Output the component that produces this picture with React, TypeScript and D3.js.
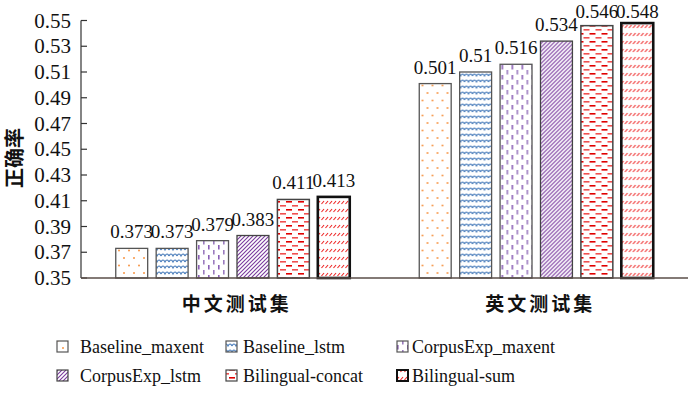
import React from "react";
import * as d3 from "d3";

// data
const groups = ["中文测试集", "英文测试集"];
const series = [
  "Baseline_maxent",
  "Baseline_lstm",
  "CorpusExp_maxent",
  "CorpusExp_lstm",
  "Bilingual-concat",
  "Bilingual-sum",
];
const zhValues = [0.373, 0.373, 0.379, 0.383, 0.411, 0.413];
const enValues = [0.501, 0.51, 0.516, 0.534, 0.546, 0.548];
const valueLabels = [
  ["0.373", "0.373", "0.379", "0.383", "0.411", "0.413"],
  ["0.501", "0.51", "0.516", "0.534", "0.546", "0.548"],
];
const yTicks = [0.35, 0.37, 0.39, 0.41, 0.43, 0.45, 0.47, 0.49, 0.51, 0.53, 0.55];

const W = 700;
const H = 396;
const serif = "Liberation Serif";
const cjk = "Noto Sans CJK SC";

const fills = ["url(#p0)", "url(#p1)", "url(#p2)", "url(#p3)", "url(#p4)", "url(#p5)"];
const strokes = ["#555", "#555", "#555", "#444", "#444", "#111"];
const strokeW = [1.3, 1.3, 1.3, 1.3, 1.5, 2.6];

function Patterns() {
  return (
    <defs>
      <pattern id="p0" patternUnits="userSpaceOnUse" width={10} height={15}>
        <rect width={10} height={15} fill="#fff" />
        <circle cx={3} cy={3} r={1} fill="#f79646" />
        <circle cx={8} cy={10.5} r={1} fill="#f79646" />
      </pattern>
      <pattern id="p1" patternUnits="userSpaceOnUse" width={8} height={6}>
        <rect width={8} height={6} fill="#fff" />
        <path d="M0,4 Q2,0 4,4 Q6,0 8,4" fill="none" stroke="#4f81bd" strokeWidth={1.2} />
      </pattern>
      <pattern id="p2" patternUnits="userSpaceOnUse" width={10} height={10}>
        <rect width={10} height={10} fill="#fff" />
        <rect x={2} y={0} width={1.6} height={4.5} fill="#9b7bbf" />
        <rect x={7} y={5} width={1.6} height={4.5} fill="#8a5fb5" />
      </pattern>
      <pattern id="p3" patternUnits="userSpaceOnUse" width={4} height={4}>
        <rect width={4} height={4} fill="#fff" />
        <path d="M-1,1 L1,-1 M0,4 L4,0 M3,5 L5,3" stroke="#7a3a9e" strokeWidth={1.1} />
      </pattern>
      <pattern id="p4" patternUnits="userSpaceOnUse" width={12} height={8}>
        <rect width={12} height={8} fill="#fff" />
        <rect x={1} y={1} width={6} height={1.6} fill="#e00000" />
        <rect x={7} y={5} width={6} height={1.6} fill="#f05050" />
        <rect x={-5} y={5} width={6} height={1.6} fill="#f05050" />
      </pattern>
      <pattern id="p5" patternUnits="userSpaceOnUse" width={4} height={8}>
        <rect width={4} height={8} fill="#fff" />
        <path d="M0.5,4 L3,1" stroke="#ee2020" strokeWidth={1.1} />
      </pattern>
    </defs>
  );
}

export default function App() {
  const y = d3.scaleLinear().domain([0.35, 0.55]).range([278, 20.5]);
  const x0 = d3.scaleBand().domain(groups).range([81, 688]);
  const x1 = d3
    .scaleBand()
    .domain(series)
    .range([0, x0.bandwidth()])
    .paddingInner(0.21)
    .paddingOuter(0.86);
  const data = [zhValues, enValues];
  const fmt = d3.format(".2f");

  const colX = [57, 226, 397];
  const textX = [80, 243, 412];
  const rowY = [347, 376];

  return (
    <svg
      width={W}
      height={H}
      style={{ position: "absolute", left: 0, top: 0, background: "#fff" }}
    >
      <Patterns />

      {/* bars + value labels */}
      {groups.map((g, gi) => (
        <g key={g} transform={`translate(${x0(g)},0)`}>
          {series.map((s, si) => {
            const v = data[gi][si];
            const bx = x1(s)!;
            return (
              <g key={s}>
                <rect
                  x={bx}
                  y={y(v)}
                  width={x1.bandwidth()}
                  height={y(0.35) - y(v)}
                  fill={fills[si]}
                  stroke={strokes[si]}
                  strokeWidth={strokeW[si]}
                />
                <text
                  x={bx + x1.bandwidth() / 2}
                  y={Math.max(y(v) - 10, 18)}
                  textAnchor="middle"
                  fill="#111"
                  style={{ fontFamily: serif, fontSize: "19px" }}
                >
                  {valueLabels[gi][si]}
                </text>
              </g>
            );
          })}
        </g>
      ))}

      {/* group labels */}
      {groups.map((g) => (
        <text
          key={g}
          x={x0(g)! + x0.bandwidth() / 2 + 4}
          y={311}
          textAnchor="middle"
          fill="#111"
          style={{ fontFamily: cjk, fontWeight: 700, fontSize: "19px", letterSpacing: "3px" }}
        >
          {g}
        </text>
      ))}

      {/* y axis */}
      <line x1={81} x2={81} y1={y(0.55)} y2={y(0.35)} stroke="#333" strokeWidth={1.2} />
      {yTicks.map((t) => (
        <g key={t} transform={`translate(81,${y(t)})`}>
          <line x1={0} x2={6} stroke="#333" strokeWidth={1.2} />
          <text
            x={-10}
            dy="0.34em"
            textAnchor="end"
            fill="#111"
            style={{ fontFamily: serif, fontSize: "21px" }}
          >
            {fmt(t)}
          </text>
        </g>
      ))}

      {/* x axis */}
      <line x1={81} x2={688} y1={y(0.35)} y2={y(0.35)} stroke="#5a4e48" strokeWidth={1.6} />

      {/* y title */}
      <text
        transform="translate(22,158) rotate(-90)"
        textAnchor="middle"
        fill="#111"
        style={{ fontFamily: cjk, fontWeight: 700, fontSize: "20px" }}
      >
        正确率
      </text>

      {/* legend */}
      {series.map((s, si) => {
        const c = si % 3;
        const r = Math.floor(si / 3);
        return (
          <g key={s}>
            <rect
              x={colX[c]}
              y={rowY[r] - 6}
              width={11}
              height={11}
              fill={fills[si]}
              stroke={strokes[si]}
              strokeWidth={si === 5 ? 2 : 1.2}
            />
            <text
              x={textX[c]}
              y={rowY[r] + 6}
              fill="#111"
              style={{ fontFamily: serif, fontSize: "18px" }}
            >
              {s}
            </text>
          </g>
        );
      })}
    </svg>
  );
}
